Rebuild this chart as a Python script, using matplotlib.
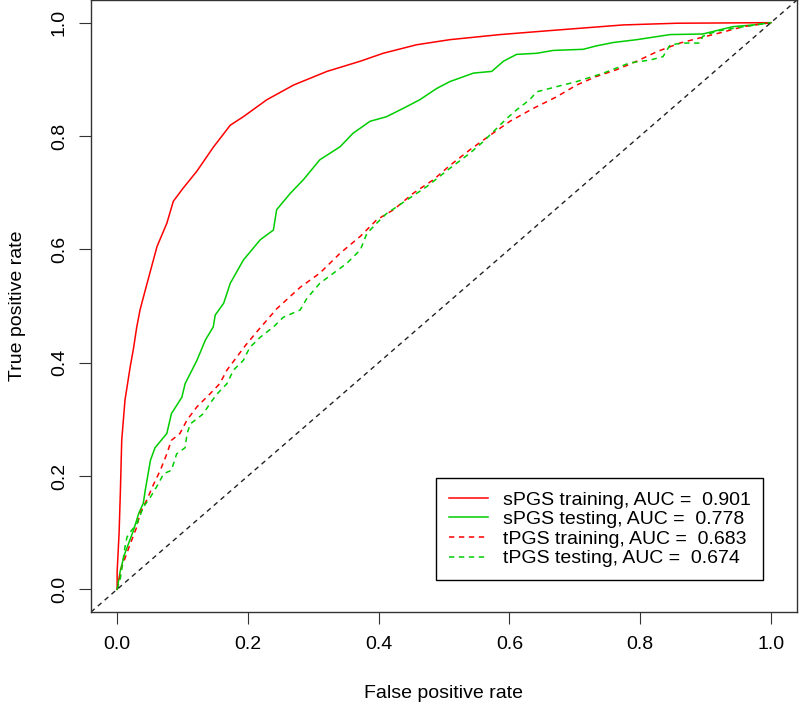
import numpy as np
import matplotlib.pyplot as plt

plt.rcParams['font.family'] = ['Liberation Sans', 'DejaVu Sans']

# ROC curves (false positive rate, true positive rate)
s_train_fpr = [0.0, 0.0, 0.003, 0.005, 0.007, 0.012, 0.020, 0.025, 0.030, 0.035, 0.040,
               0.050, 0.061, 0.076, 0.086, 0.101, 0.122, 0.147, 0.173, 0.193, 0.229,
               0.270, 0.321, 0.372, 0.407, 0.458, 0.509, 0.586, 0.662, 0.774, 0.856, 1.0]
s_train_tpr = [0.0, 0.031, 0.100, 0.175, 0.263, 0.334, 0.393, 0.425, 0.463, 0.493, 0.515,
               0.558, 0.605, 0.646, 0.685, 0.708, 0.738, 0.780, 0.819, 0.834, 0.864,
               0.890, 0.914, 0.932, 0.946, 0.961, 0.970, 0.979, 0.986, 0.996, 0.999, 1.0]

s_test_fpr = [0.0, 0.005, 0.012, 0.025, 0.033, 0.040, 0.043, 0.051, 0.058, 0.076, 0.083,
              0.099, 0.104, 0.122, 0.135, 0.147, 0.150, 0.163, 0.173, 0.193, 0.219,
              0.239, 0.244, 0.265, 0.285, 0.310, 0.341, 0.361, 0.387, 0.412, 0.438,
              0.463, 0.489, 0.509, 0.545, 0.573, 0.591, 0.611, 0.642, 0.667, 0.713,
              0.733, 0.759, 0.795, 0.846, 0.896, 0.917, 0.942, 0.973, 1.0]
s_test_tpr = [0.0, 0.034, 0.064, 0.104, 0.134, 0.152, 0.175, 0.228, 0.250, 0.275, 0.310,
              0.339, 0.363, 0.404, 0.440, 0.463, 0.484, 0.505, 0.540, 0.581, 0.617,
              0.634, 0.670, 0.699, 0.723, 0.758, 0.781, 0.805, 0.826, 0.834, 0.849,
              0.864, 0.884, 0.896, 0.911, 0.914, 0.932, 0.944, 0.946, 0.951, 0.953,
              0.959, 0.965, 0.970, 0.979, 0.980, 0.986, 0.993, 0.996, 1.0]

t_train_fpr = [0.0, 0.007, 0.020, 0.030, 0.035, 0.045, 0.056, 0.066, 0.076, 0.083, 0.096,
               0.107, 0.122, 0.142, 0.157, 0.168, 0.183, 0.196, 0.214, 0.229, 0.244,
               0.280, 0.310, 0.341, 0.372, 0.397, 0.423, 0.453, 0.484, 0.509, 0.540,
               0.575, 0.601, 0.637, 0.672, 0.703, 0.733, 0.764, 0.795, 0.826, 0.861,
               0.891, 0.922, 0.958, 1.0]
t_train_tpr = [0.0, 0.039, 0.080, 0.110, 0.134, 0.157, 0.186, 0.210, 0.239, 0.263, 0.275,
               0.299, 0.322, 0.345, 0.363, 0.387, 0.410, 0.430, 0.455, 0.475, 0.495,
               0.533, 0.558, 0.593, 0.623, 0.652, 0.670, 0.699, 0.723, 0.748, 0.776,
               0.805, 0.826, 0.849, 0.869, 0.890, 0.905, 0.917, 0.932, 0.949, 0.964,
               0.973, 0.982, 0.993, 1.0]

t_test_fpr = [0.0, 0.005, 0.012, 0.015, 0.022, 0.030, 0.040, 0.051, 0.063, 0.071, 0.083,
              0.091, 0.104, 0.107, 0.112, 0.132, 0.142, 0.153, 0.168, 0.178, 0.193,
              0.203, 0.219, 0.239, 0.254, 0.280, 0.290, 0.310, 0.331, 0.351, 0.372,
              0.382, 0.397, 0.412, 0.443, 0.474, 0.509, 0.540, 0.560, 0.596, 0.611,
              0.631, 0.642, 0.672, 0.703, 0.744, 0.784, 0.815, 0.835, 0.846, 0.866,
              0.891, 0.896, 0.917, 0.948, 1.0]
t_test_tpr = [0.0, 0.020, 0.075, 0.092, 0.104, 0.115, 0.145, 0.163, 0.186, 0.204, 0.210,
              0.239, 0.250, 0.275, 0.292, 0.310, 0.328, 0.345, 0.363, 0.387, 0.404,
              0.427, 0.445, 0.463, 0.480, 0.493, 0.513, 0.540, 0.558, 0.575, 0.599,
              0.628, 0.646, 0.663, 0.687, 0.711, 0.743, 0.770, 0.790, 0.831, 0.846,
              0.864, 0.878, 0.887, 0.896, 0.911, 0.929, 0.934, 0.940, 0.961, 0.964,
              0.964, 0.976, 0.985, 0.991, 1.0]

labels = ['sPGS training, AUC =  0.901', 'sPGS testing, AUC =  0.778',
          'tPGS training, AUC =  0.683', 'tPGS testing, AUC =  0.674']
ticks = [0.0, 0.2, 0.4, 0.6, 0.8, 1.0]

red = '#FF0000'
green = '#00CD00'
dash = (0, (3.5, 3))

fig = plt.figure(figsize=(8, 7.06), dpi=100)
ax = fig.add_axes([91/800, 94/706, 706/800, 612/706])

ax.plot(s_train_fpr, s_train_tpr, color=red, lw=1.1, label=labels[0])
ax.plot(s_test_fpr, s_test_tpr, color=green, lw=1.1, label=labels[1])
ax.plot(t_train_fpr, t_train_tpr, color=red, lw=1.1, ls=dash, label=labels[2])
ax.plot(t_test_fpr, t_test_tpr, color=green, lw=1.1, ls=dash, label=labels[3])
# chance line
ax.axline((0, 0), slope=1, color='#222222', lw=1.0, ls=dash)

ax.set_xlim(-0.04, 1.04)
ax.set_ylim(-0.04, 1.04)
ax.set_xticks(ticks)
ax.set_yticks(ticks)
ax.set_xticklabels([f'{t:.1f}' for t in ticks])
ax.set_yticklabels([f'{t:.1f}' for t in ticks], rotation=90, va='center')
ax.tick_params(direction='out', length=8.6, width=0.8, labelsize=14, color='#333333')
ax.tick_params(axis='x', pad=9)
ax.tick_params(axis='y', pad=8)
for sp in ax.spines.values():
    sp.set_linewidth(1.0)
    sp.set_color('#333333')

ax.set_xlabel('False positive rate', fontsize=14)
ax.set_ylabel('True positive rate', fontsize=14)
ax.xaxis.set_label_coords(0.5, -0.119)
ax.yaxis.set_label_coords(-0.092, 0.5)

leg = ax.legend(loc='lower right', bbox_to_anchor=(0.952, 0.0523), fontsize=14,
                fancybox=False, framealpha=1, edgecolor='black', handlelength=2.0,
                handletextpad=0.77, borderpad=0.65, labelspacing=0.1,
                borderaxespad=0)
leg.get_frame().set_linewidth(1.0)

fig.savefig('out.png', dpi=100)
